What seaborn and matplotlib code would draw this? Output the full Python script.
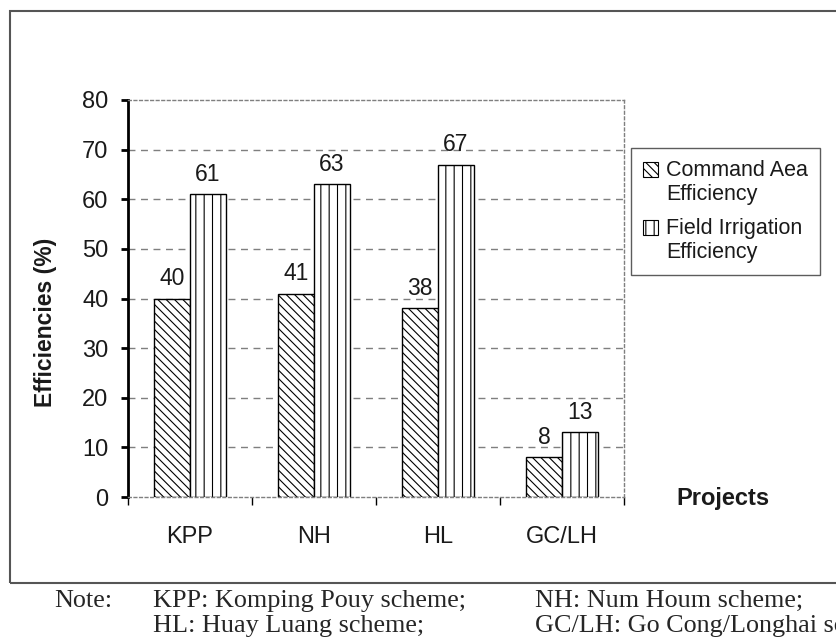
import matplotlib
matplotlib.use("Agg")
import matplotlib.pyplot as plt
import matplotlib.patches as mpatches
from matplotlib.legend_handler import HandlerPatch
import seaborn as sns
import pandas as pd

# Data
projects = ["KPP", "NH", "HL", "GC/LH"]
command_area = [40, 41, 38, 8]
field_irrigation = [61, 63, 67, 13]
series_names = ["Command Aea\nEfficiency", "Field Irrigation\nEfficiency"]
y_ticks = [0, 10, 20, 30, 40, 50, 60, 70, 80]
note_rows = [
    ("KPP: Komping Pouy scheme;", "NH: Num Houm scheme;"),
    ("HL: Huay Luang scheme;", "GC/LH: Go Cong/Longhai scheme"),
]

df = pd.DataFrame({
    "project": projects * 2,
    "value": command_area + field_irrigation,
    "series": [series_names[0]] * len(projects) + [series_names[1]] * len(projects),
})

sns.set_style("white")
plt.rcParams["font.family"] = ["Liberation Sans", "DejaVu Sans"]
plt.rcParams["hatch.linewidth"] = 0.8
plt.rcParams["hatch.color"] = "black"

TXT = "#1a1a1a"
W, H = 837, 644
fig = plt.figure(figsize=(W / 100, H / 100), dpi=100)
ax = fig.add_axes([128 / W, 1 - 497 / H, (624 - 128) / W, (497 - 100) / H])

hatches = ["\\\\\\\\", "||"]
sns.barplot(data=df, x="project", y="value", hue="series", order=projects,
            hue_order=series_names, palette=["white", "white"], width=0.58,
            gap=0, edgecolor="black", linewidth=1.0, legend=False, ax=ax,
            saturation=1)

for container, hatch in zip(ax.containers, hatches):
    for bar in container:
        bar.set_hatch(hatch)
        bar.set_edgecolor("black")
        bar.set_zorder(2)
    ax.bar_label(container, fmt="%d", padding=6, fontsize=16.5, color=TXT)

ax.set_xlim(-0.5, len(projects) - 0.5)
ax.set_ylim(y_ticks[0], y_ticks[-1])

# Dashed horizontal guides behind the bars
for yv in y_ticks[1:-1]:
    ax.axhline(yv, color="#7f7f7f", lw=1.0, linestyle=(0, (5, 4)), zorder=0.5)

# Spines
for side in ["top", "right", "bottom"]:
    ax.spines[side].set_visible(True)
    ax.spines[side].set_color("#7f7f7f")
    ax.spines[side].set_linestyle((0, (2, 2)))
    ax.spines[side].set_linewidth(1.0)
ax.spines["left"].set_color("black")
ax.spines["left"].set_linewidth(2.0)

# Ticks
ax.set_yticks(y_ticks)
ax.tick_params(axis="y", direction="out", length=5, width=2, color="black",
               pad=9, labelsize=17, labelcolor=TXT, left=True)
ax.set_xticks(range(len(projects)))
ax.set_xticklabels(projects)
ax.set_xticks([i - 0.5 for i in range(len(projects) + 1)], minor=True)
ax.tick_params(axis="x", which="major", length=0, pad=21, labelsize=17,
               labelcolor=TXT)
ax.tick_params(axis="x", which="minor", direction="out", length=6, width=1,
               color="black", bottom=True)

ax.set_xlabel("")
ax.set_ylabel("Efficiencies (%)", fontsize=16.5, fontweight="bold", color=TXT)
ax.yaxis.set_label_coords(57 / W, 0.5, transform=fig.transFigure)

fig.text(676 / W, 1 - 505 / H, "Projects", fontsize=17, fontweight="bold",
         color=TXT, ha="left", va="baseline")


class TopAlignedPatch(HandlerPatch):
    """Place the swatch beside the first line of a two-line label."""

    def create_artists(self, legend, orig_handle, xdescent, ydescent, width,
                       height, fontsize, trans):
        shift = 0.62 * fontsize
        p = mpatches.Rectangle((-xdescent, -ydescent + shift), width, height,
                               facecolor="white", edgecolor="black",
                               hatch=orig_handle.get_hatch(), linewidth=0.8,
                               transform=trans)
        return [p]


# Legend
handles = [mpatches.Patch(facecolor="white", edgecolor="black", hatch=h, linewidth=0.8)
           for h in hatches]
leg = fig.legend(handles, series_names, loc="upper left",
                 bbox_to_anchor=(631 / W, 1 - 148 / H), bbox_transform=fig.transFigure,
                 fontsize=15.5, frameon=True, fancybox=False, shadow=False,
                 handlelength=0.72, handleheight=0.72, handletextpad=0.35,
                 borderpad=0.55, labelspacing=0.6, borderaxespad=0,
                 handler_map={mpatches.Patch: TopAlignedPatch()})
leg.get_frame().set_edgecolor("#333333")
leg.get_frame().set_linewidth(1.0)
for t in leg.get_texts():
    t.set_color(TXT)

# Outer frame around the chart
fig.patches.append(mpatches.Rectangle((10 / W, 1 - 583 / H), 1.2, (583 - 11) / H,
                                      transform=fig.transFigure, fill=False,
                                      edgecolor="#555555", linewidth=1.5))

# Notes under the chart
serif = ["Liberation Serif", "DejaVu Serif"]
fig.text(54 / W, 1 - 607 / H, "Note:", family=serif, fontsize=18.8, va="baseline")
for i, (left, right) in enumerate(note_rows):
    yb = 1 - (607 + 25 * i) / H
    fig.text(153 / W, yb, left, family=serif, fontsize=18.8, va="baseline")
    fig.text(535 / W, yb, right, family=serif, fontsize=18.8, va="baseline")

fig.savefig("out.png", dpi=100)
